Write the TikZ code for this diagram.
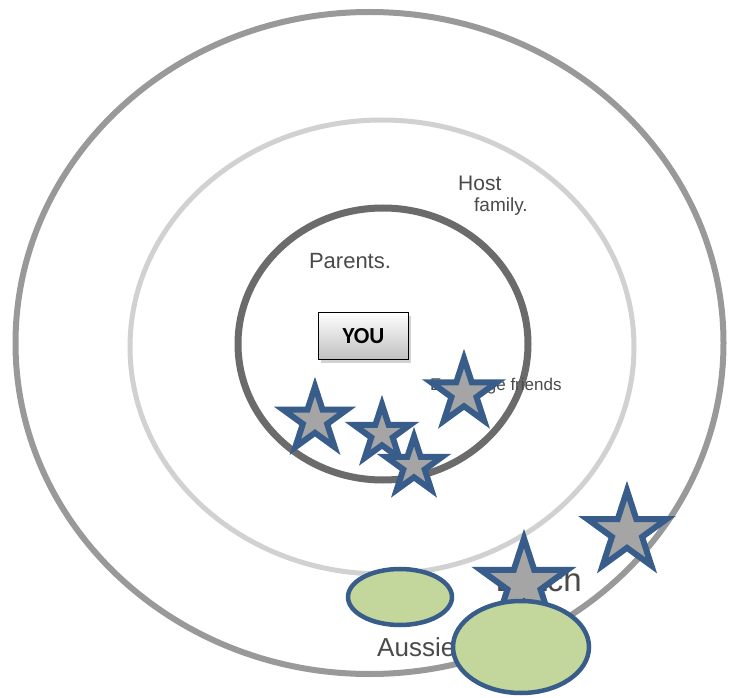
\documentclass[tikz,border=0pt]{standalone}
\usepackage{fontspec}
\setmainfont{Liberation Sans}
\newfontfamily\youfont{Carlito}
\usetikzlibrary{shapes.geometric,shadows}
\definecolor{starblue}{HTML}{385D8A}
\definecolor{stargray}{HTML}{A5A5A5}
\definecolor{ovalgreen}{HTML}{C3D69B}
\definecolor{hand}{HTML}{4A4A4A}
\tikzset{
  starshape/.style={star, star points=5, star point ratio=2.618, draw=starblue, fill=stargray, line width=6pt, inner sep=0pt, minimum size=#1},
  oval/.style={draw=starblue, fill=ovalgreen, line width=4.5pt},
  handtext/.style={text=hand, inner sep=0pt, font=\fontsize{#1}{#1}\selectfont},
  youbox/.style={draw=black, line width=1.5pt, top color=white, bottom color=black!25, minimum width=90pt, minimum height=47pt, inner sep=0pt, drop shadow={shadow xshift=2pt, shadow yshift=-3pt, opacity=0.35}, font=\youfont\bfseries\fontsize{23}{23}\selectfont}
}
\begin{document}
\begin{tikzpicture}[x=1pt,y=-1pt]
\useasboundingbox (0,0) rectangle (729,698);
\fill[white] (0,0) rectangle (729,698);
% rings
\draw[draw=black!40, line width=6pt] (369.5,343) ellipse [x radius=354, y radius=331];
\draw[draw=black!18, line width=5pt] (382,347) ellipse [x radius=252, y radius=227];
\draw[draw=black!58, line width=7pt] (383,344) ellipse [x radius=145, y radius=136];
% handwritten labels
\node[handtext=21, anchor=west] (host) at (458,183) {Host};
\node[handtext=19, anchor=west] (family) at (474,207) {family.};
\node[handtext=22] (parents) at (350,261) {Parents.};
\node[handtext=17, anchor=west] (exf) at (430,386) {Exchange friends};
\node[handtext=33, anchor=east] (dutch) at (582,580) {Dutch};
\node[handtext=26, anchor=west] (aussie) at (377,647) {Aussie};
% YOU box
\node[youbox] (you) at (363.5,336) {YOU};
% stars
\node[starshape=67pt] (s1) at (315,420) {};
\node[starshape=59pt] (s2) at (382,434) {};
\node[starshape=59pt] (s3) at (414,466) {};
\node[starshape=69pt] (s4) at (464,393) {};
\node[starshape=83pt] (s5) at (627,532) {};
% ovals
\draw[oval] (400,597) ellipse [x radius=52, y radius=28];
\node[starshape=91pt] (s6) at (524,584) {};
\draw[oval] (521,647) ellipse [x radius=68, y radius=46];
\end{tikzpicture}
\end{document}
